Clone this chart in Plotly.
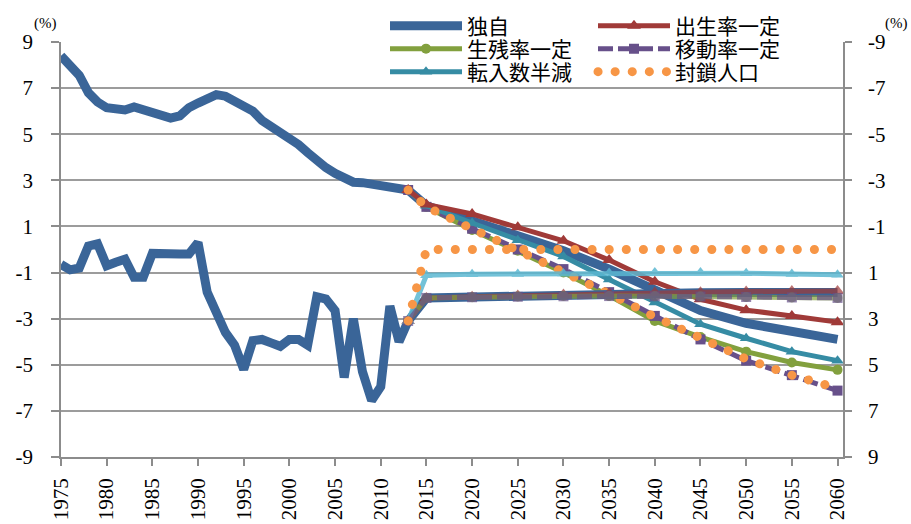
import plotly.graph_objects as go

# ---------------- data ----------------
hist_years = list(range(1975, 2014))
# upper line (left axis, %)
dokuji_hist_upper = [8.4, 8.0, 7.55, 6.8, 6.4, 6.15, 6.1, 6.05, 6.18, 6.05,
                     6.0, 5.85, 5.7, 5.8, 6.15, 6.35, 6.55, 6.72, 6.65, 6.4,
                     6.25, 6.0, 5.6, 5.35, 5.1, 4.75, 4.55, 4.2, 3.85, 3.55,
                     3.3, 3.1, 2.92, 2.9, 2.85, 2.8, 2.68, 2.62, 2.58]
# lower line (right axis, reversed, %)
dokuji_hist_lower = [0.65, 0.88, 0.8, -0.15, -0.25, 0.7, 0.55, 0.42, 1.2, 1.2,
                     0.17, 0.15, 0.2, 0.2, 0.2, -0.3, 1.85, 2.8, 3.6, 4.15,
                     5.2, 3.95, 3.9, 4.05, 4.2, 3.9, 3.9, 4.15, 2.05, 2.15,
                     2.65, 5.55, 3.0, 5.3, 6.55, 5.95, 2.45, 4.0, 3.1]

proj_years = [2013, 2015, 2020, 2025, 2030, 2035, 2040, 2045, 2050, 2055, 2060]

# projections, upper group (left axis)
dokuji_upper  = [2.58, 1.9, 1.25, 0.6, -0.05, -0.85, -1.8, -2.65, -3.2, -3.55, -3.9]
shussei_upper = [2.58, 1.95, 1.54, 0.96, 0.38, -0.46, -1.4, -2.16, -2.63, -2.88, -3.15]
seizan_upper  = [2.58, 1.85, 0.85, -0.05, -1.0, -2.0, -3.1, -3.8, -4.43, -4.9, -5.22]
ido_upper     = [2.58, 1.85, 0.9, 0.0, -0.85, -1.85, -2.88, -3.9, -4.82, -5.45, -6.12]
tennyu_upper  = [2.58, 1.9, 1.15, 0.4, -0.3, -1.3, -2.3, -3.24, -3.85, -4.43, -4.82]
fusa_upper    = [2.58, 1.85, 0.9, -0.02, -0.92, -1.92, -2.92, -3.88, -4.75, -5.45, -6.02]

# projections, lower group (right axis, reversed)
dokuji_lower  = [3.1, 2.1, 2.05, 2.0, 1.95, 1.92, 1.9, 1.88, 1.87, 1.87, 1.87]
shussei_lower = [3.1, 2.1, 2.05, 2.0, 1.95, 1.9, 1.87, 1.85, 1.82, 1.8, 1.8]
seizan_lower  = [3.1, 2.1, 2.07, 2.04, 2.02, 2.02, 2.03, 2.04, 2.06, 2.08, 2.1]
ido_lower     = [3.1, 2.1, 2.07, 2.05, 2.03, 2.02, 2.03, 2.04, 2.06, 2.08, 2.1]
tennyu_lower  = [3.1, 1.12, 1.07, 1.06, 1.04, 1.02, 1.0, 1.0, 1.03, 1.06, 1.1]
fusa_lower    = [3.1, 0.0, 0.0, 0.0, 0.0, 0.0, 0.0, 0.0, 0.0, 0.0, 0.0]

series_names = ["独自", "出生率一定", "生残率一定", "移動率一定", "転入数半減", "封鎖人口"]
x_ticks = list(range(1975, 2061, 5))
y_ticks = list(range(-9, 10, 2))

# ---------------- styles ----------------
BLUE = "#3A6598"
RED = "#A03A38"
GREEN = "#82A03E"
PURPLE = "#67508A"
TEAL = "#368CA4"
LTEAL = "#5BB8D2"
ORANGE = "rgb(247,150,70)"
SERIF = "Liberation Serif"
CJK = "Noto Sans CJK JP"

fig = go.Figure()

LOW_OP = 0.7

# lower group (right axis)
fig.add_trace(go.Scatter(x=hist_years + proj_years[1:], y=dokuji_hist_lower + dokuji_lower[1:],
                         yaxis="y2", mode="lines", line=dict(color=BLUE, width=9),
                         showlegend=False, hoverinfo="skip"))
fig.add_trace(go.Scatter(x=proj_years, y=shussei_lower, yaxis="y2", mode="lines+markers",
                         line=dict(color=RED, width=5), opacity=LOW_OP,
                         marker=dict(symbol="triangle-up", size=12, color=RED),
                         showlegend=False, hoverinfo="skip"))
fig.add_trace(go.Scatter(x=proj_years, y=seizan_lower, yaxis="y2", mode="lines+markers",
                         line=dict(color=GREEN, width=5), opacity=LOW_OP,
                         marker=dict(symbol="circle", size=10, color=GREEN),
                         showlegend=False, hoverinfo="skip"))
fig.add_trace(go.Scatter(x=proj_years, y=tennyu_lower, yaxis="y2", mode="lines+markers",
                         line=dict(color=LTEAL, width=5), opacity=0.85,
                         marker=dict(symbol="triangle-up", size=11, color=LTEAL),
                         showlegend=False, hoverinfo="skip"))
fig.add_trace(go.Scatter(x=proj_years, y=ido_lower, yaxis="y2", mode="lines+markers",
                         line=dict(color=PURPLE, width=5, dash="15px,5px"), opacity=LOW_OP,
                         marker=dict(symbol="square", size=10, color=PURPLE),
                         showlegend=False, hoverinfo="skip"))
fig.add_trace(go.Scatter(x=proj_years, y=fusa_lower, yaxis="y2", mode="lines",
                         line=dict(color=ORANGE, width=9, dash="9px,8px"),
                         showlegend=False, hoverinfo="skip"))

# upper group (left axis)
fig.add_trace(go.Scatter(x=hist_years + proj_years[1:], y=dokuji_hist_upper + dokuji_upper[1:],
                         mode="lines", line=dict(color=BLUE, width=9),
                         name=series_names[0], legend="legend", hoverinfo="skip"))
fig.add_trace(go.Scatter(x=proj_years, y=seizan_upper, mode="lines+markers",
                         line=dict(color=GREEN, width=5),
                         marker=dict(symbol="circle", size=10, color=GREEN),
                         name=series_names[2], legend="legend2", hoverinfo="skip"))
fig.add_trace(go.Scatter(x=proj_years, y=ido_upper, mode="lines+markers",
                         line=dict(color=PURPLE, width=5, dash="15px,5px"),
                         marker=dict(symbol="square", size=10, color=PURPLE),
                         name=series_names[3], legend="legend5", hoverinfo="skip"))
fig.add_trace(go.Scatter(x=proj_years, y=tennyu_upper, mode="lines+markers",
                         line=dict(color=TEAL, width=5),
                         marker=dict(symbol="triangle-up", size=11, color=TEAL),
                         name=series_names[4], legend="legend3", hoverinfo="skip"))
fig.add_trace(go.Scatter(x=proj_years, y=shussei_upper, mode="lines+markers",
                         line=dict(color=RED, width=5),
                         marker=dict(symbol="triangle-up", size=12, color=RED),
                         name=series_names[1], legend="legend4", hoverinfo="skip"))
fig.add_trace(go.Scatter(x=proj_years, y=fusa_upper, mode="lines",
                         line=dict(color=ORANGE, width=9, dash="9px,8px"),
                         name=series_names[5], legend="legend6", hoverinfo="skip"))

# ---------------- layout ----------------
W, H = 911, 524
ML, MR, MT, MB = 61, 68, 42, 67
PW, PH = W - ML - MR, H - MT - MB


def px_x(px):
    return (px - ML) / PW


def px_y(py):
    return 1 - (py - MT) / PH


leg_common = dict(xanchor="left", yanchor="middle", bgcolor="rgba(255,255,255,0)",
                  borderwidth=0, itemwidth=72, tracegroupgap=0,
                  font=dict(family=CJK, size=21, color="#000000"))
rows = [26, 49, 72]
col_l, col_r = 385, 593
legends = {}
legends["legend"] = dict(x=px_x(col_l), y=px_y(rows[0]), **leg_common)
legends["legend2"] = dict(x=px_x(col_l), y=px_y(rows[1]), **leg_common)
legends["legend3"] = dict(x=px_x(col_l), y=px_y(rows[2]), **leg_common)
legends["legend4"] = dict(x=px_x(col_r), y=px_y(rows[0]), **leg_common)
legends["legend5"] = dict(x=px_x(col_r), y=px_y(rows[1]), **leg_common)
legends["legend6"] = dict(x=px_x(col_r), y=px_y(rows[2]), **leg_common)

GRID = "#9C9C9C"
AXC = "#8C8C8C"

fig.update_layout(
    width=W, height=H,
    margin=dict(l=ML, r=MR, t=MT, b=MB, pad=0, autoexpand=False),
    paper_bgcolor="white", plot_bgcolor="white",
    showlegend=True,
    **legends,
    xaxis=dict(range=[1975, 2060.6], tickmode="array", tickvals=x_ticks,
               ticktext=[str(v) for v in x_ticks], tickangle=-90,
               ticks="outside", ticklen=7, tickwidth=1.5, tickcolor=AXC,
               showline=True, linecolor=AXC, linewidth=1.5, showgrid=False,
               zeroline=False, tickfont=dict(family=SERIF, size=21, color="#000000"),
               ticklabelstandoff=4, automargin=False),
    yaxis=dict(range=[-9, 9], tickmode="array", tickvals=y_ticks,
               ticktext=[str(v) for v in y_ticks],
               ticks="outside", ticklen=8, tickwidth=1.5, tickcolor=AXC,
               showline=True, linecolor=AXC, linewidth=1.5,
               showgrid=True, gridcolor=GRID, gridwidth=1.6, zeroline=False,
               tickfont=dict(family=SERIF, size=21, color="#000000"),
               ticklabelstandoff=14, automargin=False),
    yaxis2=dict(range=[9, -9], overlaying="y", side="right", tickmode="array",
                tickvals=y_ticks, ticktext=[str(v) for v in y_ticks],
                ticks="outside", ticklen=7, tickwidth=1.5, tickcolor=AXC,
                showline=True, linecolor=AXC, linewidth=1.5, showgrid=False,
                zeroline=False, tickfont=dict(family=SERIF, size=21, color="#000000"),
                ticklabelstandoff=12, automargin=False),
    shapes=[dict(type="rect", xref="paper", yref="paper", layer="between",
                 x0=px_x(383), x1=px_x(795), y0=px_y(50), y1=px_y(34),
                 line=dict(width=0), fillcolor="white")],
    annotations=[
        dict(text="(%)", xref="paper", yref="paper", x=px_x(45), y=px_y(24),
             xanchor="center", yanchor="middle", showarrow=False,
             font=dict(family=SERIF, size=15, color="#000000")),
        dict(text="(%)", xref="paper", yref="paper", x=px_x(896), y=px_y(24),
             xanchor="center", yanchor="middle", showarrow=False,
             font=dict(family=SERIF, size=15, color="#000000")),
    ],
)

post_js = """
document.querySelectorAll('path').forEach(function(p){
  var s = (p.style.stroke || '').replace(/\\s/g,'');
  if (s === 'rgb(247,150,70)') {
    p.style.strokeLinecap = 'round';
    p.style.strokeDasharray = '0.1px,17px';
  }
});
"""

fig.write_html("out.html", post_script=post_js)
